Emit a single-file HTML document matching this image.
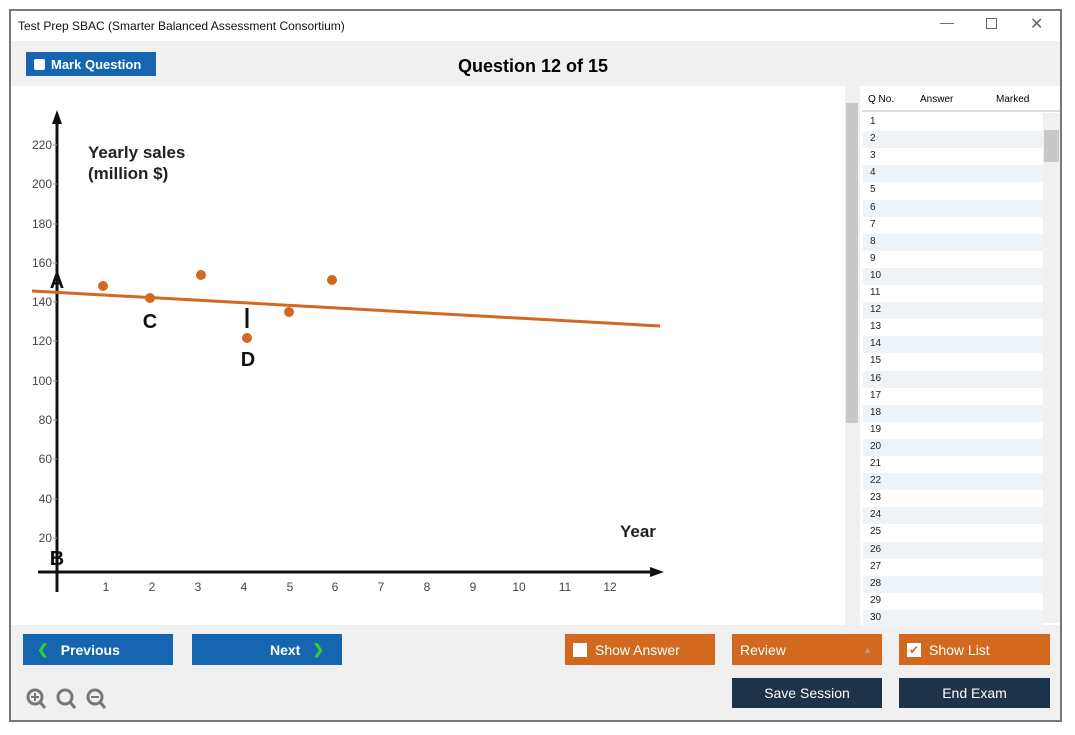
<!DOCTYPE html><html><head><style>
body{margin:0;width:1075px;height:735px;background:#fff;font-family:"Liberation Sans",sans-serif;position:relative;overflow:hidden}
.a{position:absolute}
.btn{position:absolute;color:#fff;font-size:14px;display:flex;align-items:center;box-sizing:border-box}
</style></head><body>
<div class="a" style="left:9px;top:9px;width:1053px;height:713px;border:2px solid #777;box-sizing:border-box;background:#f0f0f0"></div>
<div class="a" style="left:11px;top:11px;width:1049px;height:30px;background:#fff"></div>
<div class="a" style="left:18px;top:19px;font-size:12px;color:#111">Test Prep SBAC (Smarter Balanced Assessment Consortium)</div>
<div class="a" style="left:940px;top:14px;font-size:14px;color:#666">—</div>
<div class="a" style="left:986px;top:18px;width:9px;height:9px;border:1px solid #666"></div>
<div class="a" style="left:1030px;top:14px;font-size:16px;color:#666">✕</div>
<div class="btn" style="left:26px;top:52px;width:130px;height:24px;background:#1565b0;font-size:13px;font-weight:bold;padding-left:8px"><span style="width:11px;height:11px;background:#fff;border-radius:2px;margin-right:6px"></span>Mark Question</div>
<div class="a" style="left:458px;top:56px;font-size:18px;font-weight:bold">Question 12 of 15</div>
<div class="a" style="left:11px;top:86px;width:834px;height:539px;background:#fff"></div>
<div class="a" style="left:845px;top:86px;width:15px;height:539px;background:#f0f0f0"></div>
<div class="a" style="left:846px;top:103px;width:12px;height:320px;background:#c8c8c8"></div>
<div class="a" style="left:860px;top:86px;width:200px;height:539px;background:#fff"></div>
<div class="a" style="left:862px;top:110px;width:198px;height:2px;background:#ddd"></div>
<div class="a" style="left:868px;top:94px;font-size:10px">Q No.</div>
<div class="a" style="left:920px;top:94px;font-size:10px">Answer</div>
<div class="a" style="left:996px;top:94px;font-size:10px">Marked</div>
<div class="a" style="left:1043px;top:113px;width:17px;height:510px;background:#f0f0f0"></div>
<div class="a" style="left:1044px;top:130px;width:15px;height:32px;background:#c8c8c8"></div>
<div id="rows"></div>
<script>
var h='';for(var i=1;i<=30;i++){var y=114+(i-1)*17.1;h+='<div class="a" style="left:863px;top:'+y+'px;width:180px;height:17px;background:'+(i%2==0?'#eef3f8':'#fff')+'"></div><div class="a" style="left:870px;top:'+(y+2)+'px;font-size:10px;color:#222">'+i+'</div>';}
document.getElementById('rows').innerHTML=h;
</script>
<svg class="a" style="left:0;top:0" width="845" height="625" font-family="Liberation Sans, sans-serif">
<line x1="57" y1="592" x2="57" y2="122" stroke="#111" stroke-width="3"/>
<polygon points="57,110 52,124 62,124" fill="#111"/>
<line x1="38" y1="572" x2="652" y2="572" stroke="#111" stroke-width="3"/>
<polygon points="664,572 650,567 650,577" fill="#111"/>
<g font-size="12" fill="#444" text-anchor="end">
<text x="52" y="149">220</text><text x="52" y="188">200</text><text x="52" y="228">180</text><text x="52" y="267">160</text><text x="52" y="306">140</text><text x="52" y="345">120</text><text x="52" y="385">100</text><text x="52" y="424">80</text><text x="52" y="463">60</text><text x="52" y="503">40</text><text x="52" y="542">20</text></g>
<g stroke="#999" stroke-width="1"><line x1="53" y1="145" x2="57" y2="145"/><line x1="53" y1="184" x2="57" y2="184"/><line x1="53" y1="224" x2="57" y2="224"/><line x1="53" y1="263" x2="57" y2="263"/><line x1="53" y1="302" x2="57" y2="302"/><line x1="53" y1="341" x2="57" y2="341"/><line x1="53" y1="381" x2="57" y2="381"/><line x1="53" y1="420" x2="57" y2="420"/><line x1="53" y1="459" x2="57" y2="459"/><line x1="53" y1="499" x2="57" y2="499"/><line x1="53" y1="538" x2="57" y2="538"/></g>
<g font-size="12" fill="#444" text-anchor="middle">
<text x="106" y="591">1</text><text x="152" y="591">2</text><text x="198" y="591">3</text><text x="244" y="591">4</text><text x="290" y="591">5</text><text x="335" y="591">6</text><text x="381" y="591">7</text><text x="427" y="591">8</text><text x="473" y="591">9</text><text x="519" y="591">10</text><text x="565" y="591">11</text><text x="610" y="591">12</text></g>
<text x="88" y="158" font-size="17" font-weight="bold" fill="#222">Yearly sales</text>
<text x="88" y="179" font-size="17" font-weight="bold" fill="#222">(million $)</text>
<text x="620" y="537" font-size="17" font-weight="bold" fill="#222">Year</text>
<line x1="32" y1="291" x2="660" y2="326" stroke="#d2691e" stroke-width="3"/>
<g fill="#d2691e"><circle cx="103" cy="286" r="5"/><circle cx="150" cy="298" r="5"/><circle cx="201" cy="275" r="5"/><circle cx="247" cy="338" r="5"/><circle cx="289" cy="312" r="5"/><circle cx="332" cy="280" r="5"/></g>
<line x1="247" y1="308" x2="247" y2="328" stroke="#111" stroke-width="3"/>
<g font-size="20" font-weight="bold" fill="#111" text-anchor="middle">
<text x="57" y="288">A</text><text x="150" y="328">C</text><text x="248" y="366">D</text><text x="57" y="565">B</text></g>
</svg>
<div class="btn" style="left:23px;top:634px;width:150px;height:31px;background:#1565b0;font-weight:bold;padding-left:14px"><span style="color:#3c3;margin-right:12px">❮</span>Previous</div>
<div class="btn" style="left:192px;top:634px;width:150px;height:31px;background:#1565b0;font-weight:bold;padding-left:78px">Next<span style="color:#3c3;margin-left:12px">❯</span></div>
<div class="btn" style="left:565px;top:634px;width:150px;height:31px;background:#d2691e;padding-left:8px"><span style="width:14px;height:14px;background:#fff;margin-right:8px"></span>Show Answer</div>
<div class="btn" style="left:732px;top:634px;width:150px;height:31px;background:#d2691e;padding-left:8px">Review<span style="margin-left:auto;margin-right:10px;font-size:9px;color:#b0a090">▲</span></div>
<div class="btn" style="left:899px;top:634px;width:151px;height:31px;background:#d2691e;padding-left:8px"><span style="width:14px;height:14px;background:#fff;margin-right:8px;color:#d2691e;font-size:12px;line-height:14px;text-align:center">✔</span>Show List</div>
<div class="btn" style="left:732px;top:678px;width:150px;height:30px;background:#1c3349;justify-content:center">Save Session</div>
<div class="btn" style="left:899px;top:678px;width:151px;height:30px;background:#1c3349;justify-content:center">End Exam</div>
<svg class="a" style="left:24px;top:686px" width="90" height="28" stroke="#777" stroke-width="3" fill="none">
<circle cx="11" cy="11" r="7"/><line x1="16" y1="16" x2="21" y2="22"/><line x1="7" y1="11" x2="15" y2="11" stroke-width="2"/><line x1="11" y1="7" x2="11" y2="15" stroke-width="2"/>
<circle cx="41" cy="11" r="7"/><line x1="46" y1="16" x2="51" y2="22"/>
<circle cx="71" cy="11" r="7"/><line x1="76" y1="16" x2="81" y2="22"/><line x1="67" y1="11" x2="75" y2="11" stroke-width="2"/>
</svg>
</body></html>
